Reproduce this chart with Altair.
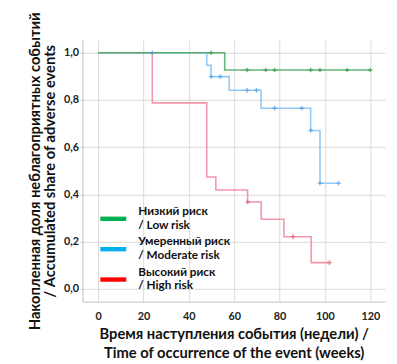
import altair as alt
import pandas as pd

groups = ["Low", "Moderate", "High"]
legend_labels = ["Низкий риск|/ Low risk", "Умеренный риск|/ Moderate risk", "Высокий риск|/ High risk"]

low_t = [0, 55.8, 120]
low_s = [1.0, 0.927, 0.927]
low_ct = [49.8, 65.7, 73.9, 77.8, 93.7, 97.8, 109.8, 120]
low_cs = [1.0, 0.927, 0.927, 0.927, 0.927, 0.927, 0.927, 0.927]

mod_t = [0, 47.9, 49.8, 57.8, 71.8, 93.7, 97.8, 106]
mod_s = [1.0, 0.947, 0.899, 0.841, 0.765, 0.671, 0.447, 0.447]
mod_ct = [23.9, 49.8, 53.9, 65.7, 69.8, 77.8, 89.8, 93.7, 97.8, 106]
mod_cs = [1.0, 0.899, 0.899, 0.841, 0.841, 0.765, 0.765, 0.671, 0.447, 0.447]

high_t = [0, 23.9, 47.9, 51.9, 65.9, 71.9, 81.9, 93.9, 102]
high_s = [1.0, 0.788, 0.474, 0.419, 0.368, 0.295, 0.221, 0.111, 0.111]
high_ct = [65.9, 85.9, 102]
high_cs = [0.368, 0.221, 0.111]

x_ticks = [0, 20, 40, 60, 80, 100, 120]
y_ticks = [0.0, 0.2, 0.4, 0.6, 0.8, 1.0]

line_colors = ["#4aa862", "#80c0f0", "#f5849c"]
mark_colors = ["#2f9a48", "#4f9be0", "#e8506e"]
legend_colors = ["#00b050", "#00b0f0", "#ff0000"]

# drawn High first, Low last (green on top)
rows = []
for g, ts, ss in zip(groups[::-1], [high_t, mod_t, low_t], [high_s, mod_s, low_s]):
    for i, (t, s) in enumerate(zip(ts, ss)):
        rows.append({"group": g, "t": t, "s": s, "o": i})
lines_df = pd.DataFrame(rows)

crow = []
for g, ts, ss in zip(groups, [low_ct, mod_ct, high_ct], [low_cs, mod_cs, high_cs]):
    for t, s in zip(ts, ss):
        crow.append({"group": g, "t": t, "s": s})
cens_df = pd.DataFrame(crow)

leg_df = pd.DataFrame({"group": groups, "t": [0, 0, 0], "s": [1.0, 1.0, 1.0]})

FONT = "Lato"
W, H = 309, 267

xscale = alt.Scale(domain=[-6.9, 126.5], nice=False, zero=False)
yscale = alt.Scale(domain=[-0.054, 1.054], nice=False, zero=False)

x_axis = alt.Axis(
    values=x_ticks, grid=True, gridColor="#d9d9d9", domainColor="#bfbfbf",
    ticks=False, labelPadding=9, labelFont=FONT, labelFontWeight="bold",
    labelFontSize=11, labelColor="#222222",
    title=["Время наступления события (недели) /", "Time of occurrence of the event (weeks)"],
    titleFont=FONT, titleFontSize=15, titleFontWeight="bold", titleColor="#111111",
    titleLineHeight=19, titlePadding=6,
)
y_axis = alt.Axis(
    values=y_ticks, grid=True, gridColor="#d9d9d9", domainColor="#bfbfbf",
    ticks=True, tickSize=3, tickColor="#d9d9d9", labelPadding=1,
    labelFont=FONT, labelFontWeight="bold", labelFontSize=11, labelColor="#222222",
    labelExpr="replace(format(datum.value, '.1f'), '.', ',')",
    title=["Накопленная доля неблагоприятных событий", "/ Accumulated share of adverse events"],
    titleFont=FONT, titleFontSize=15, titleFontWeight="bold", titleColor="#111111",
    titleLineHeight=16, titlePadding=6,
)

lines = alt.Chart(lines_df).mark_line(interpolate="step-after", strokeWidth=1.6, strokeOpacity=0.85).encode(
    x=alt.X("t:Q", scale=xscale, axis=x_axis),
    y=alt.Y("s:Q", scale=yscale, axis=y_axis),
    color=alt.Color("group:N", scale=alt.Scale(domain=groups, range=line_colors), legend=None),
    order="o:Q",
)

marks = alt.Chart(cens_df).mark_point(
    shape="M-1,0L1,0M0,-1L0,1", size=22, strokeWidth=1.4, filled=False
).encode(
    x=alt.X("t:Q", scale=xscale),
    y=alt.Y("s:Q", scale=yscale),
    color=alt.Color("group:N", scale=alt.Scale(domain=groups, range=mark_colors), legend=None),
)

leg = alt.Chart(leg_df).mark_line(strokeOpacity=0).encode(
    x=alt.X("t:Q", scale=xscale),
    y=alt.Y("s:Q", scale=yscale),
    color=alt.Color(
        "group:N",
        scale=alt.Scale(domain=groups, range=legend_colors),
        legend=alt.Legend(
            title=None, orient="none", legendX=16, legendY=167, padding=0,
            symbolType="stroke", symbolStrokeWidth=4.5, symbolSize=700,
            symbolOpacity=1, labelOffset=10, rowPadding=3, labelBaseline="line-bottom",
            labelFont=FONT, labelFontWeight="bold", labelFontSize=12,
            labelColor="#111111", labelLimit=300,
            labelExpr="split(" + "{'Low': '" + legend_labels[0] + "', 'Moderate': '" + legend_labels[1]
            + "', 'High': '" + legend_labels[2] + "'}[datum.label], '|')",
        ),
    ),
)

chart = (
    alt.layer(lines, marks, leg)
    .resolve_scale(color="independent")
    .properties(
        width=W, height=H,
        autosize=alt.AutoSizeParams(type="none"),
        padding={"left": 76, "top": 29, "right": 4, "bottom": 60},
        background="white",
    )
    .configure_view(stroke=None)
)

chart.save("out.html", embed_options={"renderer": "svg", "actions": False})
